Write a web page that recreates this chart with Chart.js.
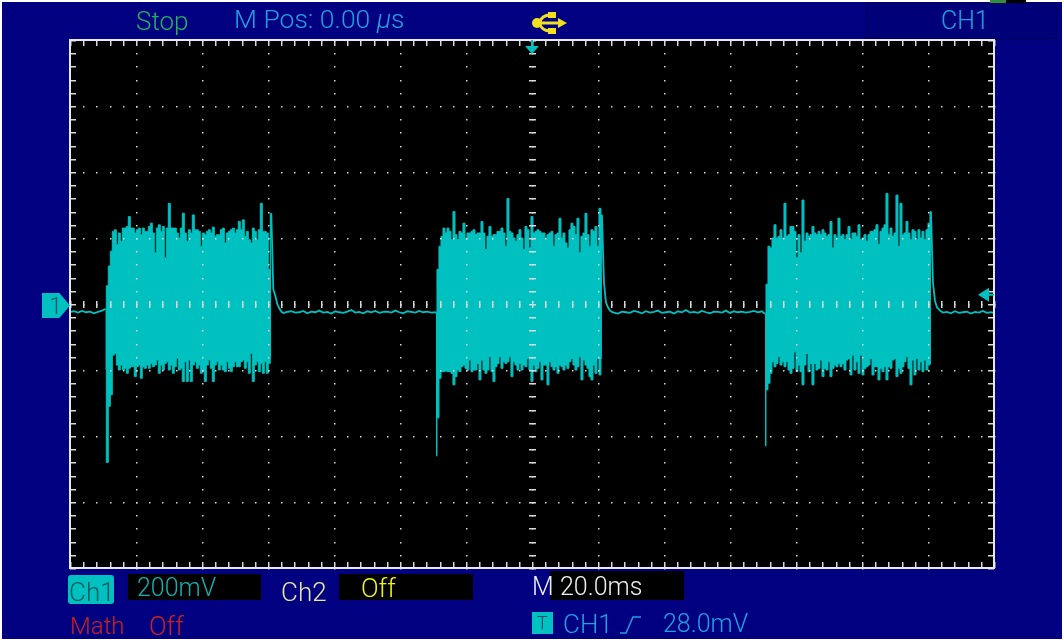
<!DOCTYPE html>
<html>
<head>
  <title>CH1 capture</title>
  <script src="https://cdn.jsdelivr.net/npm/chart.js"></script>
  <style>
    html, body { margin: 0; padding: 0; background: #fff; }
    #scope { position: absolute; left: 0; top: 0; }
    .txt { position: absolute; font-family: Roboto, "Liberation Sans", sans-serif; font-size: 25px; line-height: 30px; white-space: nowrap; font-weight: 300; }
    .box { position: absolute; background: #000; }
  </style>
</head>
<body>
  <canvas id="scope" width="1064" height="641"></canvas>

  <!-- frame pieces of the scope screen around the plot -->
  <div class="box" style="left:866px;top:3px;width:189px;height:34px;background:#000078;border:1px solid #00005a"></div>
  <div class="box" style="left:990px;top:0;width:16px;height:3px;background:#2f8f3f"></div>
  <div class="box" style="left:1006px;top:0;width:20px;height:3px"></div>
  <div class="box" style="left:128px;top:574px;width:133px;height:26px"></div>
  <div class="box" style="left:339px;top:574px;width:134px;height:26px"></div>
  <div class="box" style="left:550px;top:571px;width:134px;height:29px"></div>
  <div class="box" style="left:68px;top:575px;width:46px;height:29px;background:#00c0c0;border-radius:3px"></div>
  <div class="box" style="left:532px;top:612px;width:21px;height:22px;background:#00c0c0"></div>
  <div class="box" style="left:42px;top:293px;width:28px;height:25px;background:#00c0c0;clip-path:polygon(0 0,62% 0,100% 50%,62% 100%,0 100%)"></div>

  <div class="txt" style="left:136px;top:6px;font-size:26px;color:#22b060">Stop</div>
  <div class="txt" style="left:234px;top:4px;font-size:26.5px;color:#20a0e0">M Pos: 0.00 <i>μ</i>s</div>
  <div class="txt" style="left:941px;top:6px;color:#20a0e0">CH1</div>
  <div class="txt" style="left:69px;top:577px;font-size:26px;color:#005c60">Ch1</div>
  <div class="txt" style="left:137px;top:573px;color:#12b0b0">200mV</div>
  <div class="txt" style="left:281px;top:577px;font-size:26px;color:#e8e8a0">Ch2</div>
  <div class="txt" style="left:361px;top:573px;font-size:26px;color:#f0f020">Off</div>
  <div class="txt" style="left:70px;top:611px;font-size:24px;color:#cc2020">Math</div>
  <div class="txt" style="left:149px;top:611px;font-size:26px;color:#cc2020">Off</div>
  <div class="txt" style="left:532px;top:572px;color:#f0f0f0">M</div>
  <div class="txt" style="left:560px;top:572px;color:#f0f0f0">20.0ms</div>
  <div class="txt" style="left:537px;top:612px;font-size:18px;line-height:22px;color:#004c70">T</div>
  <div class="txt" style="left:563px;top:609px;font-size:26px;color:#20a0e0">CH1</div>
  <div class="txt" style="left:663px;top:609px;color:#20a0e0">28.0mV</div>
  <div class="txt" style="left:49px;top:291px;font-size:24px;color:#005c70">1</div>

  <!-- usb icon and trigger slope -->
  <svg style="position:absolute;left:531px;top:12px" width="36" height="22" viewBox="0 0 36 22">
    <g fill="none" stroke="#f0e020" stroke-width="3">
      <path d="M4 11 H30"/>
      <path d="M8 11 Q11 3 19 3"/>
      <path d="M8 11 Q11 19 19 19"/>
    </g>
    <circle cx="6" cy="11" r="5" fill="#f0e020"/>
    <rect x="17" y="0" width="8" height="6" fill="#f0e020"/>
    <rect x="17" y="16" width="8" height="6" fill="#f0e020"/>
    <path d="M27 6 L36 11 L27 16 Z" fill="#f0e020"/>
  </svg>
  <svg style="position:absolute;left:620px;top:616px" width="21" height="18" viewBox="0 0 21 18">
    <path d="M0 17 H6 L13 1 H21" fill="none" stroke="#20a0e0" stroke-width="1.5"/>
  </svg>

  <script>
// 20 ms/div, 200 mV/div, 14 x 8 divisions
const timeMin = -140;
const timeMax = 140;
const voltMin = -800;
const voltMax = 800;
const msPerDiv = 20;
const mvPerDiv = 200;
const triggerLevel = 28;
const triggerTime = 0;

const burstStep = 0.606;
const gapStep = 1.212;
const burstStarts = [-129.3, -29.1, 70.6];

// values, mV
const burst1Top = [-15,55,115,160,220,225,180,215,190,230,230,235,265,230,230,215,225,230,210,230,220,220,235,245,215,155,230,240,220,235,140,230,305,230,230,230,215,200,230,275,215,190,225,215,270,225,225,220,175,215,210,220,225,215,233,205,210,210,225,230,185,215,220,225,230,215,225,250,225,255,205,220,195,185,230,220,195,225,305,220,220,215,105,275];
const burst1Bottom = [-195,-480,-310,-275,-155,-150,-185,-200,-185,-200,-195,-210,-195,-190,-190,-220,-190,-185,-225,-190,-195,-185,-195,-180,-190,-185,-170,-210,-185,-200,-180,-175,-200,-185,-210,-190,-165,-200,-195,-235,-175,-235,-170,-235,-185,-175,-195,-185,-210,-205,-235,-185,-170,-195,-235,-185,-175,-200,-185,-200,-205,-175,-195,-205,-190,-175,-190,-190,-175,-170,-195,-175,-210,-150,-235,-185,-175,-205,-180,-210,-175,-210,-180,-160];
const burst1Tail = [45,25,0,-13,-23];

const burst2Top = [-25,105,175,205,230,215,230,220,195,280,210,195,220,215,245,200,215,215,220,225,210,215,215,250,215,165,205,235,205,210,210,220,220,230,215,175,320,220,215,200,190,210,225,200,165,235,225,170,265,215,220,225,220,215,215,200,210,215,220,175,210,215,260,200,215,185,170,225,245,235,210,260,155,205,215,275,210,175,225,220,235,175,290,270];
const burst2Bottom = [-460,-345,-225,-205,-205,-203,-205,-205,-210,-245,-220,-200,-205,-190,-185,-195,-200,-170,-205,-200,-200,-180,-230,-170,-200,-210,-200,-160,-205,-235,-190,-180,-160,-195,-175,-180,-175,-160,-220,-175,-185,-200,-180,-200,-185,-190,-165,-200,-235,-185,-205,-195,-175,-230,-185,-185,-245,-175,-190,-200,-190,-210,-185,-190,-200,-185,-195,-175,-165,-185,-200,-190,-160,-230,-170,-185,-195,-220,-230,-185,-210,-165,-215,-165];
const burst2Tail = [65,5,-10,-20,-24];

const burst3Top = [-30,60,175,170,200,240,200,205,225,200,305,205,210,235,235,220,140,210,155,315,190,215,205,210,235,215,210,220,210,225,215,205,210,250,170,210,200,260,205,210,195,210,235,195,215,215,205,240,195,200,210,190,210,220,220,225,240,180,220,230,240,335,210,230,205,215,330,175,305,210,215,250,215,195,225,220,195,225,200,220,195,225,245,280];
const burst3Bottom = [-430,-260,-240,-210,-175,-190,-180,-160,-185,-175,-190,-175,-200,-210,-195,-145,-205,-185,-205,-245,-185,-150,-205,-180,-245,-180,-200,-195,-170,-220,-195,-200,-175,-220,-195,-185,-190,-180,-190,-180,-200,-170,-165,-215,-155,-200,-175,-210,-155,-215,-195,-190,-185,-165,-215,-190,-190,-230,-195,-205,-190,-230,-190,-195,-170,-165,-220,-195,-210,-190,-175,-160,-195,-245,-170,-215,-165,-200,-175,-205,-170,-200,-185,-180];
const burst3Tail = [65,10,-10,-17,-22];

const gap0 = [-24,-22,-26,-21,-25,-23,-28,-24,-20];
const gap1 = [-27,-24,-22,-26,-25,-21,-28,-23,-25,-20,-26,-24,-29,-22,-25,-27,-23,-18,-26,-24,-28,-22,-25,-21,-27,-24,-23,-26,-20,-25,-28,-22,-24,-26,-21,-25,-23,-26];
const gap2 = [-26,-29,-23,-25,-27,-21,-24,-28,-22,-26,-24,-20,-27,-25,-23,-29,-22,-25,-18,-26,-24,-27,-21,-25,-28,-23,-24,-26,-20,-27,-22,-25,-23,-26,-24,-21,-25,-22];
const gap3 = [-26,-24,-28,-22,-27,-25,-23,-29,-24,-26,-21,-27,-25,-28];

const traceColor = '#00c0c0';

// quiet part of the trace, one thin line between the bursts
const quietLine = [];
let t = timeMin;

function addGap(values) {
  values.forEach(v => {
    quietLine.push({ x: t, y: v });
    t += gapStep;
  });
}

// each burst is an upper and a lower edge, filled between them
const burstDatasets = [];

function addBurst(start, top, bottom, tail) {
  const upper = top.map((v, i) => ({ x: start + i * burstStep, y: v }));
  const lower = bottom.map((v, i) => ({ x: start + i * burstStep, y: v }));
  quietLine.push(upper[0]);
  quietLine.push({ x: NaN, y: NaN });
  quietLine.push(upper[upper.length - 1]);
  t = start + top.length * burstStep;
  tail.forEach(v => {
    quietLine.push({ x: t, y: v });
    t += burstStep;
  });
  burstDatasets.push(
    { label: 'CH1 upper', data: upper, borderColor: traceColor, backgroundColor: traceColor, borderWidth: 1, pointRadius: 0, stepped: 'middle', fill: '+1' },
    { label: 'CH1 lower', data: lower, borderColor: traceColor, backgroundColor: traceColor, borderWidth: 1, pointRadius: 0, stepped: 'middle', fill: false }
  );
}

addGap(gap0);
addBurst(burstStarts[0], burst1Top, burst1Bottom, burst1Tail);
addGap(gap1);
addBurst(burstStarts[1], burst2Top, burst2Bottom, burst2Tail);
addGap(gap2);
addBurst(burstStarts[2], burst3Top, burst3Bottom, burst3Tail);
addGap(gap3);

// white photo edge, navy panel, black screen behind the trace
const screenBack = {
  id: 'screenBack',
  beforeDraw(chart) {
    const { ctx, chartArea: a } = chart;
    ctx.save();
    ctx.fillStyle = '#fff';
    ctx.fillRect(0, 0, chart.width, chart.height);
    ctx.fillStyle = '#000080';
    ctx.fillRect(2, 2, chart.width - 4, chart.height - 4);
    ctx.fillStyle = '#000';
    ctx.fillRect(a.left, a.top, a.width, a.height);
    ctx.restore();
  }
};

// scope graticule goes on top of the trace
const graticule = {
  id: 'graticule',
  afterDatasetsDraw(chart) {
    const { ctx, chartArea: a, scales } = chart;
    const xs = scales.x;
    const ys = scales.y;
    const xMid = xs.getPixelForValue(0);
    const yMid = ys.getPixelForValue(0);
    ctx.save();
    ctx.fillStyle = '#d8d8d8';

    for (let v = timeMin; v <= timeMax; v += msPerDiv / 5) {
      const px = Math.round(xs.getPixelForValue(v));
      ctx.fillRect(px, a.top, 1.5, 6);
      ctx.fillRect(px, a.bottom - 6, 1.5, 6);
      ctx.fillRect(px, Math.round(yMid) - 3, 1.5, 7);
      for (let w = voltMin + mvPerDiv; w < voltMax; w += mvPerDiv) {
        ctx.fillRect(px, Math.round(ys.getPixelForValue(w)), 1.5, 1.5);
      }
    }
    for (let w = voltMin; w <= voltMax; w += mvPerDiv / 5) {
      const py = Math.round(ys.getPixelForValue(w));
      ctx.fillRect(a.left, py, 6, 1.5);
      ctx.fillRect(a.right - 6, py, 6, 1.5);
      ctx.fillRect(Math.round(xMid) - 3, py, 7, 1.5);
      for (let v = timeMin + msPerDiv; v < timeMax; v += msPerDiv) {
        ctx.fillRect(Math.round(xs.getPixelForValue(v)), py, 1.5, 1.5);
      }
    }

    // frame
    ctx.strokeStyle = '#e8e8f4';
    ctx.lineWidth = 2;
    ctx.strokeRect(a.left, a.top, a.width, a.height);

    // trigger position and trigger level arrows
    const tx = xs.getPixelForValue(triggerTime);
    const ty = ys.getPixelForValue(triggerLevel);
    ctx.fillStyle = traceColor;
    ctx.beginPath();
    ctx.moveTo(tx - 7, a.top + 6);
    ctx.lineTo(tx + 7, a.top + 6);
    ctx.lineTo(tx, a.top + 14);
    ctx.fill();
    ctx.fillRect(tx - 1, a.top, 2, 8);
    ctx.beginPath();
    ctx.moveTo(a.right - 16, ty);
    ctx.lineTo(a.right - 5, ty - 7);
    ctx.lineTo(a.right - 5, ty + 7);
    ctx.fill();
    ctx.fillRect(a.right - 6, ty - 1, 6, 2);
    ctx.restore();
  }
};

new Chart(document.getElementById('scope'), {
  type: 'line',
  data: {
    datasets: [
      { label: 'CH1', data: quietLine, borderColor: traceColor, borderWidth: 1.8, pointRadius: 0, fill: false },
      ...burstDatasets
    ]
  },
  options: {
    responsive: false,
    animation: false,
    layout: { padding: { left: 70, right: 70, top: 40, bottom: 73 } },
    plugins: { legend: { display: false }, tooltip: { enabled: false } },
    scales: {
      x: { type: 'linear', display: false, min: timeMin, max: timeMax },
      y: { type: 'linear', display: false, min: voltMin, max: voltMax }
    }
  },
  plugins: [screenBack, graticule]
});
  </script>
</body>
</html>
